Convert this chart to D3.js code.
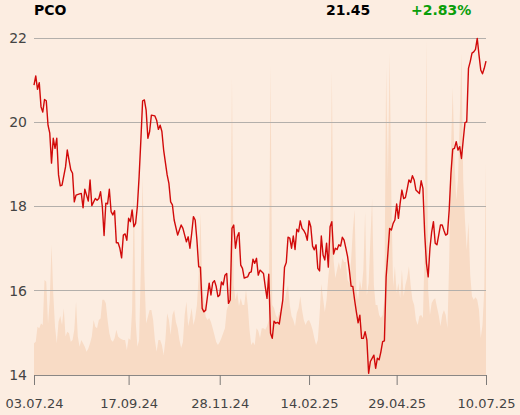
<!DOCTYPE html>
<html><head><meta charset="utf-8">
<script src="https://cdn.jsdelivr.net/npm/d3@7"></script>
<style>
html,body{margin:0;padding:0;background:#fcede1;}
svg{display:block;font-family:"DejaVu Sans",sans-serif;}
</style></head>
<body><svg id="c" width="520" height="415"></svg>
<script>
const symbol = "PCO";
const lastPrice = "21.45";
const changePct = "+2.83%";
const yTicks = [14, 16, 18, 20, 22];
const tickDays = [0, 54, 106, 157, 207, 258];
const tickLabels = ["03.07.24", "17.09.24", "28.11.24", "14.02.25", "29.04.25", "10.07.25"];

const days = [0,1,2,3,4,5,6,7,8,9,10,11,12,13,14,15,16,18,19,20,21,22,23,24,26,27,28,29,30,31,32,33,35,36,37,38,39,40,41,42,43,44,45,46,47,48,49,50,51,52,53,54,55,56,57,58,59,60,61,62,63,64,65,66,67,69,70,71,72,73,74,76,77,78,79,80,82,83,84,85,87,88,89,90,91,92,93,94,95,96,97,98,99,100,101,102,103,104,105,106,107,108,109,110,111,112,113,114,115,116,117,118,119,120,121,122,123,124,125,126,127,128,129,131,132,133,134,135,136,137,138,139,140,141,142,143,144,145,146,147,148,149,150,151,152,153,154,155,156,157,158,159,160,161,162,163,164,165,166,167,168,169,170,171,172,173,174,175,176,177,178,179,180,181,182,183,184,185,186,187,188,189,190,191,192,194,195,196,197,198,199,200,201,202,203,204,205,206,207,208,209,210,211,212,213,214,215,216,217,218,219,220,221,222,223,224,225,226,227,228,229,230,231,232,233,234,235,236,237,238,239,240,241,242,243,244,245,246,247,248,249,250,251,252,253,254,255,256,257,258];
const closes = [20.88,21.10,20.78,20.94,20.37,20.24,20.54,20.51,19.93,19.74,19.03,19.62,19.38,19.62,18.75,18.49,18.51,18.94,19.34,19.10,18.87,18.79,18.11,18.27,18.30,18.31,17.97,18.41,18.27,18.13,18.63,18.02,18.19,18.15,18.19,18.35,18.00,17.31,18.08,18.06,18.41,17.88,17.80,17.90,17.14,17.14,17.01,16.78,17.32,17.35,17.20,17.72,17.64,17.92,17.52,17.60,18.00,18.71,19.58,20.51,20.53,20.29,19.62,19.78,20.17,20.15,20.05,19.83,19.93,19.78,19.34,18.75,18.55,18.11,18.04,17.68,17.32,17.44,17.56,17.48,17.16,17.28,17.01,17.36,17.76,17.68,17.20,16.57,16.56,15.58,15.50,15.54,15.86,16.18,15.90,16.19,16.24,16.10,15.86,15.90,16.21,16.14,16.37,16.41,15.70,15.78,17.48,17.56,17.01,17.28,17.38,16.61,16.53,16.30,16.32,16.33,16.43,16.45,16.75,16.65,16.77,16.37,16.49,16.41,16.10,15.82,16.39,14.99,14.87,15.28,15.23,15.25,15.21,15.50,15.78,16.56,16.67,17.27,17.25,17.01,17.30,16.98,17.46,17.40,17.66,17.48,17.43,17.35,17.20,17.66,17.52,17.06,16.97,17.09,16.53,16.47,17.30,16.85,16.73,17.13,16.56,17.52,17.64,16.87,17.01,16.98,17.09,17.06,17.27,17.20,17.01,16.81,16.49,16.11,16.10,15.78,15.50,15.24,15.42,14.87,14.87,15.03,14.83,14.04,14.32,14.47,14.16,14.40,14.36,14.55,14.79,14.81,16.33,16.89,17.48,17.44,17.60,17.68,18.06,17.72,18.08,18.39,18.19,18.21,18.41,18.63,18.57,18.73,18.63,18.39,18.35,18.31,18.61,18.43,17.36,16.65,16.33,17.01,17.40,17.64,17.13,17.09,17.32,17.56,17.56,17.43,17.32,17.35,17.92,18.79,19.36,19.38,19.54,19.34,19.42,19.14,19.58,19.99,20.01,21.28,21.44,21.64,21.67,21.73,21.99,21.60,21.24,21.15,21.28,21.45];

// daily volume (relative units), one value per trading day 0..258
const volumes = [9.4,9.9,14.3,13.9,15.3,14.8,28.2,27.7,15.3,22.3,38.6,24.2,14.3,9.4,15.8,17.5,14.8,19.8,11.4,12.8,12.4,9.9,10.4,13.4,21.8,11.4,8.4,10.4,9.4,8.4,6.9,7.9,9.4,11.4,16.3,14.3,13.9,16.3,16.8,22.3,22.3,21.3,16.3,12.4,10.4,9.9,10.9,13.4,11.4,10.9,10.6,10.4,10.4,7.4,10.9,10.4,19.3,54.9,16.3,8.4,10.4,32.1,58.8,30.2,15.3,17.3,19.3,19.3,16.3,10.4,6.9,10.4,10.4,8.9,5.9,10.4,18.3,16.3,11.9,17.8,19.3,15.7,13.9,10.4,8.0,9.8,17.8,21.7,14.5,16.9,19.9,14.8,16.9,20.8,29.7,48.1,27.3,22.3,17.3,16.3,16.9,15.7,13.9,11.9,9.8,8.9,9.8,11.0,12.5,13.9,19.3,20.8,28.8,88.0,26.7,22.3,24.6,20.5,22.8,20.8,20.8,25.2,20.8,13.4,8.9,9.8,8.9,13.9,13.1,11.0,13.9,13.9,13.4,14.5,16.3,92.0,20.8,19.9,17.8,16.9,18.7,18.7,22.8,21.7,24.6,26.7,20.8,17.5,16.3,14.5,18.4,19.9,23.4,19.3,16.3,14.8,16.0,16.3,15.1,13.4,11.0,8.9,10.4,17.8,27.0,22.8,18.7,22.3,29.1,34.1,90.2,34.1,28.8,31.2,33.5,31.2,34.7,33.5,33.5,28.2,27.3,34.1,43.0,49.0,25.2,22.3,28.2,25.2,31.2,48.4,23.7,27.3,40.1,52.2,26.7,20.8,20.8,17.8,16.9,17.8,22.3,91.4,57.9,95.5,51.9,26.1,32.3,24.3,27.3,22.8,31.2,23.4,26.7,28.8,32.3,26.7,22.3,20.8,16.3,14.8,17.5,17.8,16.9,37.1,99.4,25.2,17.8,21.4,22.3,22.8,20.2,17.8,14.5,17.8,19.3,17.8,13.9,34.1,66.8,85.2,63.8,51.9,57.9,75.7,95.5,57.9,46.0,37.1,45.4,29.7,23.4,22.3,23.1,22.3,19.3,11.0,14.8,25.2,62.9];

const svg = d3.select("#c");
const W = 520, H = 415;
const m = {left: 34, right: 34, top: 38, bottom: 40};

const x = d3.scaleLinear().domain([0, 258]).range([m.left, W - m.right]);
const y = d3.scaleLinear().domain([14, 22]).range([H - m.bottom, m.top]);
const yv = d3.scaleLinear().domain([0, 100]).range([H - m.bottom, m.top]);

svg.append("rect").attr("width", W).attr("height", H).attr("fill", "#fcede1");

// volume area
const volData = volumes.map((v, i) => ({d: i, v}));
svg.append("path").datum(volData)
  .attr("fill", "#f8dbc5")
  .attr("d", d3.area().x(d => x(d.d)).y0(yv(0)).y1(d => yv(d.v)));

// grid
svg.append("g").selectAll("line").data(yTicks.filter(t => t > 14)).join("line")
  .attr("x1", x(0)).attr("x2", x(258))
  .attr("y1", d => y(d)).attr("y2", d => y(d))
  .attr("stroke", "#b3afab").attr("stroke-width", 1)
  .attr("shape-rendering", "crispEdges");

// y axis labels
const ya = svg.append("g").attr("transform", `translate(${m.left},0)`)
  .call(d3.axisLeft(y).tickValues(yTicks).tickSize(0).tickPadding(7).tickFormat(d3.format("d")));
ya.select(".domain").remove();
ya.selectAll("text").attr("font-size", 14).attr("fill", "#444").attr("font-family", "DejaVu Sans");

// x axis
const xa = svg.append("g").attr("transform", `translate(0,${H - m.bottom})`)
  .call(d3.axisBottom(x).tickValues(tickDays).tickSize(10).tickPadding(14)
    .tickFormat((d, i) => tickLabels[i]));
xa.select(".domain").attr("stroke", "#8a8785").attr("d", `M${x(0)},0.5H${x(258)}`);
xa.selectAll(".tick line").attr("stroke", "#7d7a78");
xa.selectAll("text").attr("font-size", 13).attr("fill", "#444").attr("font-family", "DejaVu Sans");

// price line
const priceData = days.map((d, i) => ({d, c: closes[i]}));
svg.append("path").datum(priceData)
  .attr("fill", "none").attr("stroke", "#d10a0a").attr("stroke-width", 1.4)
  .attr("stroke-linejoin", "round")
  .attr("d", d3.line().x(d => x(d.d)).y(d => y(d.c)));

// header
svg.append("text").attr("x", 34).attr("y", 15).attr("font-size", 14).attr("font-weight", "bold")
  .attr("fill", "#000").text(symbol);
svg.append("text").attr("x", 326).attr("y", 15).attr("font-size", 14).attr("font-weight", "bold")
  .attr("fill", "#000").text(lastPrice);
svg.append("text").attr("x", 411).attr("y", 15).attr("font-size", 14).attr("font-weight", "bold")
  .attr("fill", "#0a9e0a").text(changePct);
</script></body></html>
